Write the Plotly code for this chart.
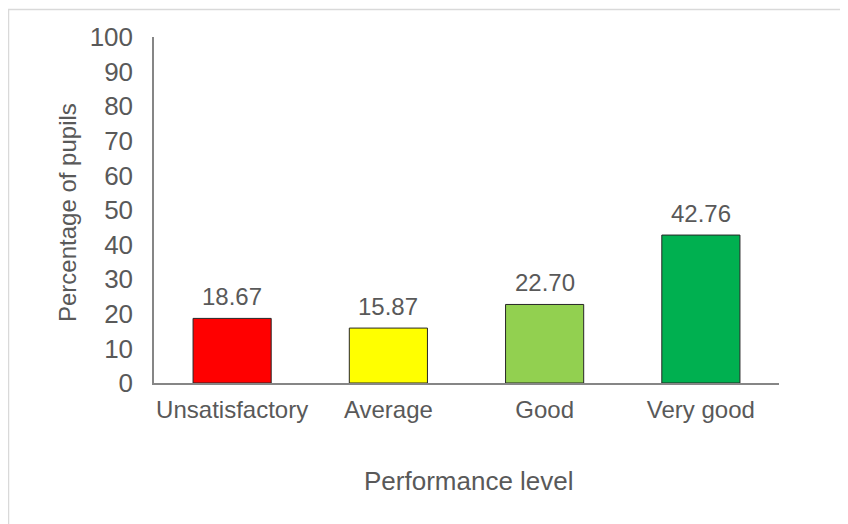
import plotly.graph_objects as go

categories = ["Unsatisfactory", "Average", "Good", "Very good"]
values = [18.67, 15.87, 22.70, 42.76]
labels = ["18.67", "15.87", "22.70", "42.76"]
colors = ["#FF0000", "#FFFF00", "#92D050", "#00B050"]
y_ticks = list(range(0, 101, 10))

OFF = 8  # page body margin
W, H = 848, 524
L, T = 154 - OFF, 37 - OFF
pw, ph = 625, 346
R, B = W - L - pw, H - T - ph

def px_x(px):
    return (px - OFF - L) / pw

def px_y(py):
    return (T + ph - (py - OFF)) / ph

FONT = "Liberation Sans, Arial, sans-serif"
TXT = "#595959"

fig = go.Figure(go.Bar(
    x=categories, y=values,
    marker=dict(color=colors, line=dict(color="#262626", width=1)),
    width=0.5,
))

label_annotations = [
    dict(x=c, y=v, text=t, xref="x", yref="y", showarrow=False,
         yanchor="bottom", xanchor="center", yshift=6,
         font=dict(size=24, color=TXT))
    for c, v, t in zip(categories, values, labels)
]

fig.update_layout(
    width=W, height=H,
    margin=dict(l=L, r=R, t=T, b=B, pad=0),
    plot_bgcolor="white", paper_bgcolor="white",
    showlegend=False,
    font=dict(family=FONT, size=24, color=TXT),
    xaxis=dict(showline=True, linecolor="#868686", linewidth=1.5, ticks="",
               showgrid=False, tickfont=dict(size=24, color=TXT),
               ticklabelstandoff=4),
    yaxis=dict(range=[0, 100], tickvals=y_ticks, showline=True,
               linecolor="#868686", linewidth=1.5, ticks="", showgrid=False,
               zeroline=False, tickfont=dict(size=26, color=TXT),
               ticklabelstandoff=14),
    shapes=[dict(type="rect", xref="paper", yref="paper",
                 x0=px_x(8.5), x1=px_x(870), y0=px_y(560), y1=px_y(9.5),
                 line=dict(color="#D9D9D9", width=1.5), fillcolor="rgba(0,0,0,0)",
                 layer="below")],
    annotations=label_annotations + [
        dict(text="Performance level", xref="paper", yref="paper",
             x=px_x(469), y=px_y(481), showarrow=False,
             font=dict(size=26, color=TXT), xanchor="center", yanchor="middle"),
        dict(text="Percentage of pupils", xref="paper", yref="paper",
             x=px_x(67), y=px_y(213), showarrow=False, textangle=-90,
             font=dict(size=24, color=TXT), xanchor="center", yanchor="middle"),
    ],
)

fig.write_html("out.html")
